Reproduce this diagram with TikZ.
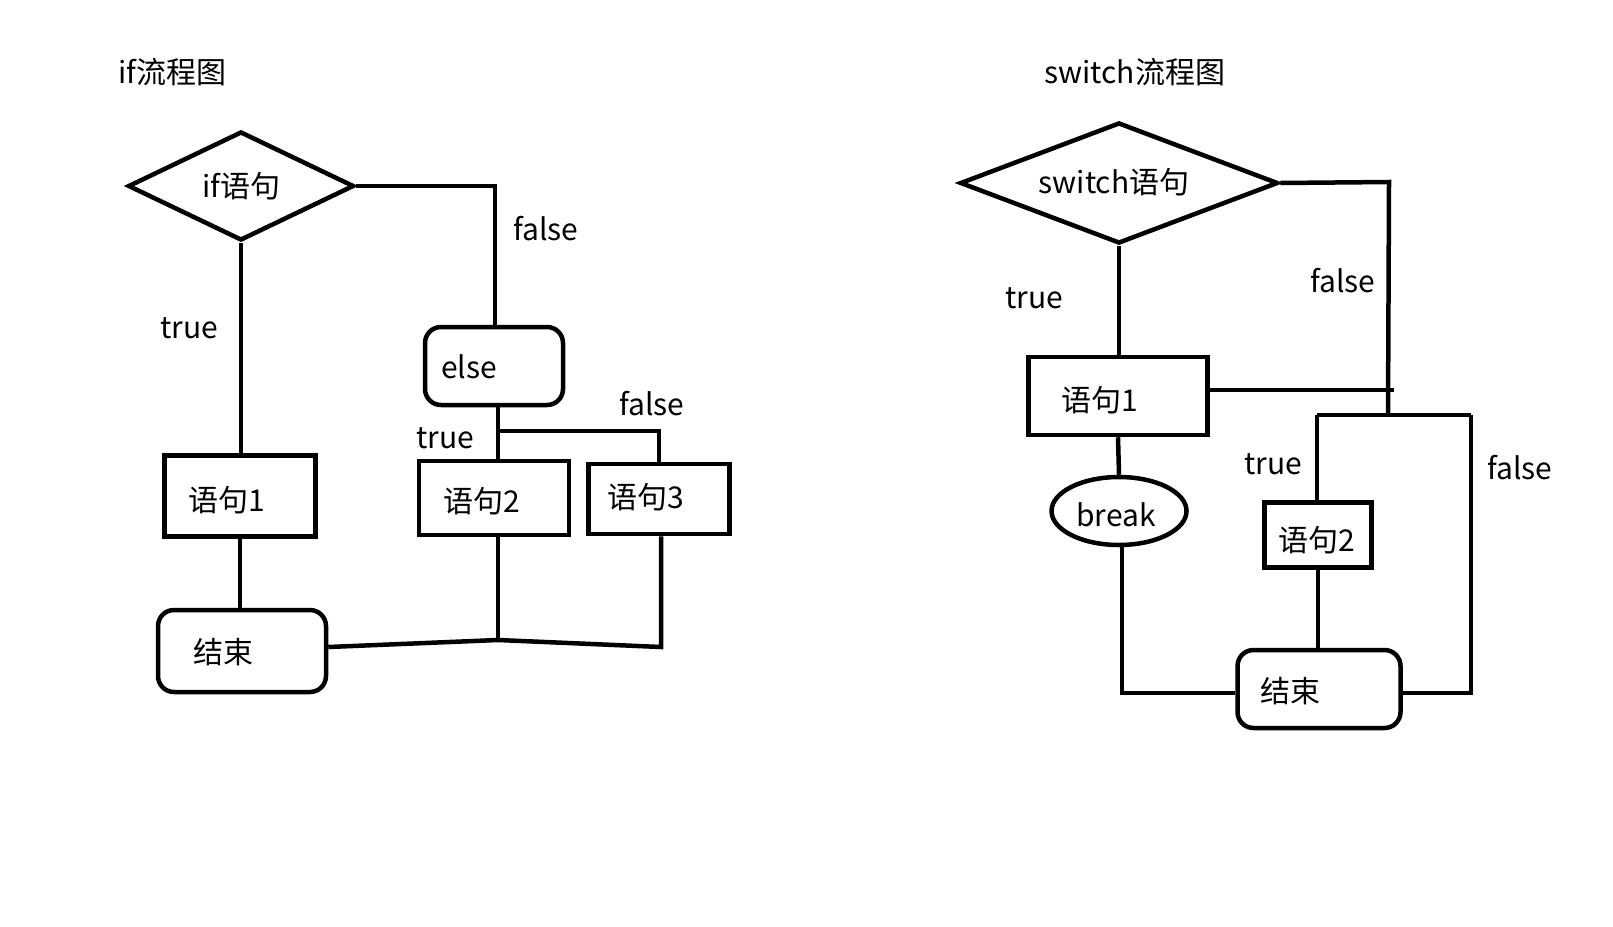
\documentclass[tikz,border=0pt]{standalone}
\usepackage{fontspec}
\setmainfont{Noto Sans CJK SC}
\usetikzlibrary{shapes.geometric}
\begin{document}
\begin{tikzpicture}[x=1pt,y=-1pt,
  line width=4.5pt,
  every node/.style={font=\fontsize{30}{34}\selectfont},
  txt/.style={inner sep=0pt},
  stepbox/.style={draw,rectangle,inner sep=0pt},
  roundbox/.style={draw,rectangle,rounded corners=16pt,inner sep=0pt},
  decision/.style={draw,diamond,aspect=2,inner sep=0pt},
  stopoval/.style={draw,ellipse,inner sep=0pt},
  link/.style={line width=4.5pt,line join=miter}]
\useasboundingbox (0,0) rectangle (1613,926);

% ---------- if flow chart ----------
\node[txt,anchor=west] (iftitle) at (116,72) {if流程图};
\node[decision,minimum width=226pt,minimum height=109pt] (ifd) at (241,186) {if语句};
\node[stepbox,minimum width=151pt,minimum height=81pt] (a1) at (240,496) {};
\node[txt] (a1t) at (227,500) {语句1};
\node[roundbox,minimum width=168pt,minimum height=82pt] (aend) at (242,651) {};
\node[txt] (aendt) at (223,652) {结束};
\node[roundbox,minimum width=138pt,minimum height=78pt] (else) at (494,366) {};
\node[txt] (elset) at (469,367) {else};
\node[stepbox,minimum width=150pt,minimum height=74pt] (a2) at (494,498) {};
\node[txt] (a2t) at (482,501) {语句2};
\node[stepbox,minimum width=141pt,minimum height=70pt] (a3) at (659,499) {};
\node[txt] (a3t) at (646,497) {语句3};

\coordinate (ifr) at (495,186);
\coordinate (ej) at (498,431);
\coordinate (ej3) at (659,431);
\coordinate (am) at (498,640);
\coordinate (am3) at (661,647);

\draw[link] (ifd.east) -- (ifr) -- (ifr |- else.north);
\draw[link] (ifd.south) -- (ifd.south |- a1.north);
\draw[link] (a1.south) -- (a1.south |- aend.north);
\draw[link] (ej |- else.south) -- (ej |- a2.north);
\draw[link] (ej) -- (ej3) -- (ej3 |- a3.north);
\draw[link] (am |- a2.south) -- (am);
\draw[link] (am3 |- a3.south) -- (am3) -- (am) -- (aend.east |- 0,647);

\node[txt] (lf1) at (546,229) {false};
\node[txt] (lt1) at (189,328) {true};
\node[txt] (lt2) at (445,438) {true};
\node[txt] (lf2) at (652,404) {false};

% ---------- switch flow chart ----------
\node[txt,anchor=west] (swtitle) at (1042,72) {switch流程图};
\node[decision,minimum width=318pt,minimum height=121pt] (swd) at (1119,183) {};
\node[txt] (swdt) at (1114,182) {switch语句};
\node[stepbox,minimum width=179pt,minimum height=78pt] (b1) at (1118,396) {};
\node[txt] (b1t) at (1100,400) {语句1};
\node[stopoval,minimum width=135pt,minimum height=68pt] (brk) at (1119,511) {};
\node[txt] (brkt) at (1116,515) {break};
\node[stepbox,minimum width=107pt,minimum height=65pt] (b2) at (1318,535) {};
\node[txt] (b2t) at (1317,540) {语句2};
\node[roundbox,minimum width=163pt,minimum height=78pt] (bend) at (1319,689) {};
\node[txt] (bendt) at (1290,691) {结束};

\coordinate (swr) at (1389,182);
\coordinate (sj) at (1388,415);
\coordinate (sl) at (1317,415);
\coordinate (sr) at (1471,415);
\coordinate (s1e) at (1394,390);
\coordinate (bbl) at (1122,693);
\coordinate (bbr) at (1471,693);

\draw[link] (swd.east) -- (swr) -- (sj);
\draw[link] (swd.south) -- (swd.south |- b1.north);
\draw[link] (b1.east |- s1e) -- (s1e);
\draw[link] (sl) -- (sr);
\draw[link] (sl) -- (sl |- b2.north);
\draw[link] (b2.south) -- (b2.south |- bend.north);
\draw[link] (b1.south) -- (brk.north);
\draw[link] (bbl |- brk.south) -- (bbl) -- (bend.west |- bbl);
\draw[link] (sr) -- (bbr) -- (bend.east |- bbr);

\node[txt] (lf3) at (1343,281) {false};
\node[txt] (lt3) at (1034,298) {true};
\node[txt] (lt4) at (1273,464) {true};
\node[txt] (lf4) at (1520,468) {false};
\end{tikzpicture}
\end{document}
